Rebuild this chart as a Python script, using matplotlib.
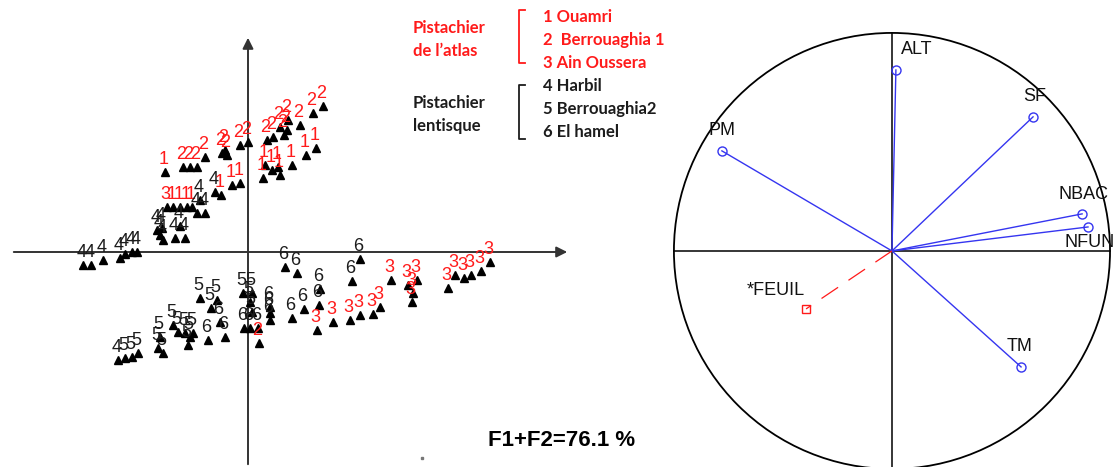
import matplotlib
matplotlib.use("Agg")
import matplotlib.pyplot as plt
from matplotlib.patches import Circle

# ---------------- data: individuals (factor map F1 x F2) ----------------
g1_x = [1.36, 1.16, 0.88, 0.64, 0.60, 0.48, 0.34, 0.30, -0.16, -0.32, -0.54, -1.12, -1.22, -1.36, -1.50, -1.66]
g1_y = [2.08, 1.94, 1.74, 1.54, 1.70, 1.64, 1.74, 1.48, 1.38, 1.34, 1.14, 0.90, 0.90, 0.90, 0.90, 1.60]

g2_x = [1.50, 1.30, 1.04, 0.80, 0.78, 0.64, 0.72, 0.50, 0.38, 0.00, -0.16, -0.46, -0.52, -0.42, -0.86, -1.02, -1.16, -1.30, 0.22]
g2_y = [2.92, 2.78, 2.54, 2.64, 2.44, 2.50, 2.34, 2.30, 2.24, 2.20, 2.14, 2.04, 1.98, 1.94, 1.90, 1.70, 1.70, 1.70, -1.82]

g3_x = [-1.62, 4.84, 4.66, 4.46, 4.32, 4.14, 4.00, 3.38, 3.20, 3.30, 3.28, 2.86, 2.64, 2.50, 2.24, 2.04, 1.70, 1.38]
g3_y = [0.90, -0.20, -0.38, -0.46, -0.52, -0.46, -0.72, -0.56, -0.66, -0.82, -1.00, -0.56, -1.10, -1.24, -1.26, -1.36, -1.40, -1.56]

g4_x = [-3.30, -3.14, -2.90, -2.56, -2.46, -2.32, -2.22, -1.82, -1.76, -1.70, -1.72, -1.46, -1.26, -1.36, -1.02, -0.86, -0.66, -0.96, -2.60]
g4_y = [-0.26, -0.26, -0.16, -0.12, -0.04, 0.00, 0.00, 0.44, 0.34, 0.24, 0.48, 0.28, 0.28, 0.52, 0.78, 0.78, 1.20, 1.04, -2.16]

g5_x = [-0.10, 0.08, 0.04, 0.08, -0.96, -0.62, -0.74, -1.50, -1.40, -1.26, -1.16, -1.10, -1.20, -1.76, -1.80, -1.70, -2.46, -2.32, -2.20]
g5_y = [-0.82, -0.82, -1.00, -1.20, -0.92, -0.96, -1.12, -1.46, -1.60, -1.62, -1.70, -1.62, -1.86, -1.70, -1.92, -2.02, -2.12, -2.10, -2.02]

g6_x = [2.24, 2.08, 1.44, 1.42, 1.12, 0.98, 0.74, 0.88, 0.44, 0.44, 0.44, 0.20, 0.04, -0.08, -0.46, -0.80, -0.56]
g6_y = [-0.14, -0.58, -0.74, -1.06, -1.14, -0.42, -0.30, -1.32, -1.36, -1.22, -1.10, -1.52, -1.52, -1.52, -1.70, -1.76, -1.40]

group_labels = ["1", "2", "3", "4", "5", "6"]

legend_red_items = ["1 Ouamri", "2  Berrouaghia 1", "3 Ain Oussera"]
legend_black_items = ["4 Harbil", "5 Berrouaghia2", "6 El hamel"]
legend_red_title = ["Pistachier", "de l\u2019atlas"]
legend_black_title = ["Pistachier", "lentisque"]
inertia_text = "F1+F2=76.1 %"

# ---------------- data: variables (correlation circle) ----------------
var_names = ["ALT", "SF", "PM", "NBAC", "NFUN", "TM"]
var_x = [0.018, 0.647, -0.780, 0.872, 0.899, 0.592]
var_y = [0.830, 0.615, 0.459, 0.170, 0.110, -0.532]
sup_name = "*FEUIL"
sup_x = -0.394
sup_y = -0.266

# ---------------- figure ----------------
W, H = 1117, 467
fig = plt.figure(figsize=(W / 100, H / 100), dpi=100)
fig.patch.set_facecolor("white")

RED = "#ff1a1a"
DARK = "#1c1c1c"
BLUE = "#3535f0"

# left panel: factor map
axL = fig.add_axes([0, 0, 700 / W, 1])
axL.set_xlim(-4.96, 9.04)
axL.set_ylim(-4.30, 5.04)
axL.axis("off")

axis_col = "#333333"
axL.annotate("", xy=(6.44, 0), xytext=(-4.74, 0),
             arrowprops=dict(arrowstyle="-|>", color=axis_col, lw=1.4, mutation_scale=16))
axL.annotate("", xy=(0, 4.34), xytext=(0, -4.30),
             arrowprops=dict(arrowstyle="-|>", color=axis_col, lw=1.4, mutation_scale=16))

groups = [(g1_x, g1_y, RED), (g2_x, g2_y, RED), (g3_x, g3_y, RED),
          (g4_x, g4_y, DARK), (g5_x, g5_y, DARK), (g6_x, g6_y, DARK)]
for (gx, gy, col), lab in zip(groups, group_labels):
    axL.plot(gx, gy, linestyle="none", marker="^", color="black", ms=5.5, zorder=3)
for (gx, gy, col), lab in zip(groups, group_labels):
    for x, y in zip(gx, gy):
        axL.annotate(lab, (x, y), xytext=(-1, 5.5), textcoords="offset points",
                     ha="center", va="baseline", color=col, fontsize=13,
                     family="Liberation Sans", zorder=4)

# legend texts
def ftxt(px, py, s, **kw):
    fig.text(px / W, 1 - py / H, s, va="center", **kw)

lkw = dict(family="Lato", fontsize=12, fontweight="bold")
ftxt(413, 28, legend_red_title[0], color=RED, **lkw)
ftxt(413, 51, legend_red_title[1], color=RED, **lkw)
ftxt(413, 103, legend_black_title[0], color=DARK, **lkw)
ftxt(413, 126, legend_black_title[1], color=DARK, **lkw)
for i, s in enumerate(legend_red_items):
    ftxt(543, 17 + 23 * i, s, color=RED, **lkw)
for i, s in enumerate(legend_black_items):
    ftxt(543, 86 + 23 * i, s, color=DARK, **lkw)

# brackets
def bracket(py0, py1, col):
    x0, x1 = 519 / W, 525 / W
    y0, y1 = 1 - py0 / H, 1 - py1 / H
    fig.add_artist(plt.Line2D([x1, x0, x0, x1], [y0, y0, y1, y1], color=col, lw=1.3,
                              transform=fig.transFigure))
bracket(10, 63, RED)
bracket(85, 139, DARK)

ftxt(488, 440, inertia_text, color="black", family="Liberation Sans",
     fontsize=16, fontweight="bold")
fig.add_artist(plt.Line2D([422 / W], [1 - 458 / H], marker="s", ms=1.5, color="#777777",
                          linestyle="none", transform=fig.transFigure))

# right panel: correlation circle
axR = fig.add_axes([670 / W, 0, 447 / W, 1])
axR.set_xlim(-1.018, 1.032)
axR.set_ylim(-0.991, 1.151)
axR.axis("off")
axR.add_patch(Circle((0, 0), 1.0, fill=False, ec="black", lw=1.3))
axR.plot([-1, 1], [0, 0], color="black", lw=1.1)
axR.plot([0, 0], [-1.2, 1.0], color="black", lw=1.1)

lab_off = [(15, 15), (1, 15), (0, 14.5), (1, 14), (1, -11.5), (-1, 14.5)]
for name, x, y, off in zip(var_names, var_x, var_y, lab_off):
    axR.plot([0, x], [0, y], color=BLUE, lw=1.0)
    axR.plot([x], [y], marker="o", ms=6.5, mfc="none", mec=BLUE, mew=1.0)
    axR.annotate(name, (x, y), xytext=off, textcoords="offset points", ha="center",
                 va="center", fontsize=13, family="Liberation Sans", color="#111111")

axR.plot([0, sup_x], [0, sup_y], color=RED, lw=0.9, dashes=(16, 10))
axR.plot([sup_x], [sup_y], marker="s", ms=6, mfc="none", mec=RED, mew=1.0)
axR.annotate(sup_name, (sup_x, sup_y), xytext=(-21.5, 13.5), textcoords="offset points",
             ha="center", va="center", fontsize=13, family="Liberation Sans", color="#111111")

fig.savefig("out.png", dpi=100, facecolor="white")
